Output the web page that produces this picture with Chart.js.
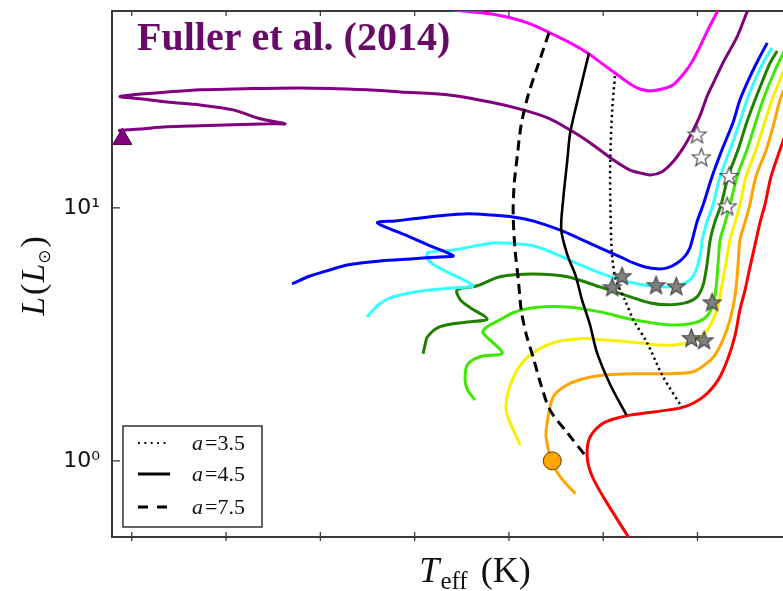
<!DOCTYPE html>
<html>
<head>
<meta charset="utf-8">
<script src="https://cdn.jsdelivr.net/npm/chart.js@4.4.1/dist/chart.umd.min.js"></script>
<style>
html, body { margin: 0; padding: 0; background: #fff; }
#wrap { width: 783px; height: 591px; }
</style>
</head>
<body>
<div id="wrap"><canvas id="hrChart" width="783" height="591"></canvas></div>
<script>
// 축 범위 / 눈금
const tempMin = 4218.6;
const tempMax = 5642;
const lumMin = 0.5;
const lumMax = 60;
const tempTicks = [4400, 4600, 4800, 5000, 5200, 5400, 5600];

// 진화 트랙 (Teff [K], L [Lsun])
const magentaTeff = [4935, 4903, 4840, 4797, 4755, 4713, 4670, 4634, 4596, 4570, 4543, 4522, 4500, 4475, 4452, 4426, 4409, 4394, 4380, 4367, 4356, 4348];
const magentaLum = [61.2, 60.1, 58.5, 56.4, 53.4, 49.2, 44.9, 41.0, 36.4, 33.6, 30.9, 29.5, 29.0, 29.5, 30.6, 34.5, 38.5, 43.7, 49.6, 55.4, 60.6, 65.2];

const purpleTeff = [5629, 5582, 5525, 5455, 5385, 5306, 5275, 5328, 5385, 5455, 5525, 5582, 5625, 5597, 5525, 5455, 5385, 5243, 5101, 5031, 4931, 4840, 4770, 4713, 4670, 4628, 4579, 4543, 4522, 4500, 4475, 4452, 4430, 4409, 4394, 4380, 4363, 4346, 4331, 4316, 4303, 4293, 4284];
const purpleLum = [20.2, 20.5, 20.9, 21.1, 21.3, 21.5, 21.5, 22.5, 24.4, 25.5, 26.2, 27.0, 27.5, 28.0, 28.7, 29.3, 29.5, 29.8, 29.3, 28.7, 28.0, 26.2, 24.4, 22.5, 20.3, 18.1, 15.5, 14.1, 13.75, 13.5, 13.9, 15.2, 17.3, 20.3, 23.3, 27.5, 32.1, 37.4, 42.1, 47.4, 54.4, 60.6, 65.2];

const blueTeff = [5260, 5222, 5179, 5143, 5073, 5003, 4946, 4918, 4967, 5020, 5079, 5041, 5003, 4946, 4888, 4840, 4791, 4749, 4687, 4649, 4607, 4564, 4536, 4511, 4486, 4464, 4443, 4426, 4416, 4411, 4401, 4388, 4369, 4348, 4324, 4310, 4289, 4271, 4252];
const blueLum = [5.01, 5.38, 5.69, 5.95, 6.17, 6.29, 6.40, 6.46, 7.08, 7.82, 8.72, 8.88, 9.05, 9.30, 9.47, 9.38, 9.21, 8.88, 8.11, 7.54, 6.95, 6.40, 6.06, 5.84, 5.74, 5.79, 6.06, 6.46, 6.95, 7.47, 8.80, 10.28, 13.3, 16.96, 21.9, 26.7, 32.9, 38.5, 44.9];

const cyanTeff = [5101, 5077, 5052, 5009, 4967, 4914, 4876, 4918, 4956, 4971, 4973, 4918, 4846, 4819, 4749, 4687, 4649, 4607, 4564, 4536, 4500, 4464, 4437, 4416, 4403, 4394, 4390, 4380, 4367, 4352, 4331, 4310, 4295, 4278, 4261, 4242];
const cyanLum = [3.71, 4.14, 4.41, 4.61, 4.74, 4.83, 4.92, 5.43, 5.90, 6.23, 6.64, 6.82, 7.21, 7.27, 7.08, 6.40, 5.95, 5.53, 5.19, 5.05, 4.92, 4.87, 4.96, 5.19, 5.69, 6.52, 7.47, 8.80, 10.28, 13.3, 16.96, 21.9, 26.7, 32.1, 37.4, 42.9];

const darkGreenTeff = [4982, 4978, 4973, 4946, 4888, 4846, 4882, 4903, 4910, 4867, 4819, 4749, 4676, 4607, 4536, 4500, 4464, 4426, 4401, 4388, 4380, 4373, 4363, 4350, 4335, 4314, 4295, 4278, 4261, 4246, 4231];
const darkGreenLum = [2.65, 2.87, 3.09, 3.39, 3.54, 3.64, 4.03, 4.33, 4.74, 4.92, 5.34, 5.48, 5.34, 4.87, 4.41, 4.21, 4.14, 4.21, 4.45, 4.96, 5.95, 7.47, 8.80, 10.28, 13.3, 16.96, 21.9, 26.7, 32.1, 37.4, 41.7];

const greenTeff = [4872, 4888, 4893, 4888, 4861, 4814, 4855, 4846, 4819, 4791, 4749, 4676, 4607, 4536, 4464, 4416, 4384, 4367, 4360, 4356, 4352, 4341, 4331, 4316, 4295, 4276, 4261, 4244, 4225, 4212];
const greenLum = [1.74, 1.91, 2.09, 2.40, 2.58, 2.67, 3.21, 3.39, 3.61, 3.85, 4.03, 4.06, 3.88, 3.61, 3.45, 3.48, 3.67, 4.14, 4.96, 6.12, 7.47, 8.80, 10.28, 13.3, 16.96, 21.9, 26.7, 32.1, 38.5, 42.9];

const yellowTeff = [4776, 4797, 4806, 4802, 4782, 4755, 4706, 4649, 4600, 4528, 4479, 4447, 4416, 4388, 4369, 4356, 4348, 4339, 4331, 4320, 4310, 4297, 4276, 4257, 4242, 4225, 4208];
const yellowLum = [1.157, 1.41, 1.59, 1.86, 2.29, 2.62, 2.93, 3.04, 3.01, 2.93, 2.87, 2.87, 2.95, 3.15, 3.54, 4.14, 4.96, 6.12, 7.47, 8.80, 10.28, 13.3, 16.96, 21.9, 26.7, 32.1, 38.5];

const orangeTeff = [4659, 4691, 4708, 4721, 4719, 4706, 4676, 4634, 4592, 4528, 4458, 4409, 4384, 4363, 4346, 4331, 4320, 4314, 4310, 4299, 4289, 4276, 4254, 4237, 4225, 4208];
const orangeLum = [0.741, 0.865, 0.982, 1.23, 1.41, 1.79, 2.00, 2.13, 2.19, 2.21, 2.21, 2.25, 2.40, 2.62, 3.01, 3.61, 4.53, 5.95, 7.47, 8.80, 10.28, 13.3, 16.96, 21.9, 26.7, 32.1];

const redTeff = [4536, 4592, 4623, 4634, 4628, 4600, 4549, 4494, 4430, 4388, 4356, 4335, 4320, 4310, 4299, 4289, 4278, 4267, 4257, 4244, 4225, 4204];
const redLum = [0.466, 0.682, 0.865, 1.037, 1.24, 1.41, 1.51, 1.56, 1.63, 1.79, 2.09, 2.55, 3.15, 3.95, 4.74, 5.79, 7.14, 8.80, 10.28, 13.3, 16.96, 21.9];

// a 값별 경계선
const aLabels = ['3.5', '4.5', '7.5'];
const a35Teff = [4575, 4581, 4585, 4585, 4583, 4581, 4573, 4554, 4536, 4507, 4473, 4433];
const a35Lum = [33.2, 24.4, 15.5, 10.75, 7.47, 6.40, 5.19, 4.33, 3.61, 2.93, 2.15, 1.63];
const a45Teff = [4630, 4649, 4670, 4676, 4685, 4689, 4676, 4659, 4645, 4628, 4613, 4585, 4551];
const a45Lum = [41.0, 29.3, 19.8, 15.5, 10.75, 8.18, 6.52, 5.43, 4.33, 3.45, 2.67, 2.00, 1.52];
const a75Teff = [4715, 4738, 4759, 4774, 4782, 4789, 4791, 4787, 4780, 4774, 4763, 4749, 4732, 4713, 4676, 4634];
const a75Lum = [49.2, 36.8, 28.0, 21.3, 16.2, 12.3, 9.38, 6.82, 5.19, 3.95, 3.15, 2.58, 2.00, 1.59, 1.29, 1.028];

// 관측 별
const greyStarTeff = [4560, 4581, 4488, 4445, 4369, 4413, 4386];
const greyStarLum = [5.34, 4.83, 4.92, 4.87, 4.21, 3.04, 2.98];
const whiteStarTeff = [4401, 4392, 4333, 4337];
const whiteStarLum = [19.4, 15.76, 13.3, 10.09];
const triangleTeff = [5620];
const triangleLum = [18.7];
const circleTeff = [4708];
const circleLum = [1.0];

const AXIS_COLOR = '#3a3a3a';
const SERIF = '"Liberation Serif", "DejaVu Serif", serif';

// (Teff, L) 배열 -> 점 객체
function toPoints(teff, lum) {
    return teff.map((t, i) => ({ x: t, y: lum[i] }));
}

function trackDataset(label, teff, lum, color) {
    return {
        label: label,
        data: toPoints(teff, lum),
        showLine: true,
        borderColor: color,
        borderWidth: 3,
        pointRadius: 0,
        tension: 0.3,
        capBezierPoints: false,
        clip: 0,
        order: 3
    };
}

function boundaryDataset(label, teff, lum, width, dash) {
    return {
        label: label,
        data: toPoints(teff, lum),
        showLine: true,
        borderColor: '#000',
        borderWidth: width,
        borderDash: dash,
        borderCapStyle: 'butt',
        pointRadius: 0,
        tension: 0.3,
        capBezierPoints: false,
        clip: 0,
        order: 2
    };
}

// 5각 별 마커
function makeStar(fill, stroke, r) {
    const size = Math.ceil(r * 2 + 4);
    const c = document.createElement('canvas');
    c.width = size;
    c.height = size;
    const g = c.getContext('2d');
    g.translate(size / 2, size / 2);
    g.beginPath();
    for (let i = 0; i < 10; i++) {
        const rad = i % 2 === 0 ? r : r * 0.42;
        const ang = -Math.PI / 2 + i * Math.PI / 5;
        g.lineTo(rad * Math.cos(ang), rad * Math.sin(ang));
    }
    g.closePath();
    g.fillStyle = fill;
    g.fill();
    g.lineWidth = 1.1;
    g.strokeStyle = stroke;
    g.stroke();
    return c;
}

function line(ctx, x1, y1, x2, y2) {
    ctx.beginPath();
    ctx.moveTo(x1, y1);
    ctx.lineTo(x2, y2);
    ctx.stroke();
}

// 여러 폰트 조각을 한 줄로
function drawRich(ctx, parts, cx, baseY) {
    let total = 0;
    parts.forEach(p => {
        ctx.font = p.font;
        p.w = ctx.measureText(p.text).width;
        total += p.w + (p.gap || 0);
    });
    let x = cx - total / 2;
    parts.forEach(p => {
        ctx.font = p.font;
        ctx.fillText(p.text, x, baseY + (p.dy || 0));
        x += p.w + (p.gap || 0);
    });
}

function drawLegend(ctx) {
    const bx = 123, by = 426, bw = 139, bh = 101;
    ctx.fillStyle = '#fff';
    ctx.fillRect(bx, by, bw, bh);
    ctx.strokeStyle = '#111';
    ctx.lineWidth = 1.3;
    ctx.strokeRect(bx, by, bw, bh);

    const rows = [
        { y: 443, width: 1.8, dash: [1.8, 4.6] },
        { y: 474, width: 3, dash: [] },
        { y: 507, width: 3, dash: [10, 9] }
    ];
    rows.forEach((row, i) => {
        ctx.strokeStyle = '#000';
        ctx.lineWidth = row.width;
        ctx.lineCap = 'butt';
        ctx.setLineDash(row.dash);
        line(ctx, 138, row.y, 170, row.y);
        ctx.setLineDash([]);
        ctx.fillStyle = '#111';
        ctx.textAlign = 'left';
        ctx.textBaseline = 'alphabetic';
        ctx.font = 'italic 22px ' + SERIF;
        ctx.fillText('a', 192, row.y + 7);
        ctx.font = '22px ' + SERIF;
        ctx.fillText('=' + aLabels[i], 205, row.y + 7);
    });
}

const decorPlugin = {
    id: 'decor',
    afterDraw(chart) {
        const { ctx, chartArea: area, scales } = chart;
        ctx.save();

        // 안쪽 눈금
        ctx.strokeStyle = AXIS_COLOR;
        ctx.lineWidth = 1.3;
        scales.y.ticks.forEach(t => {
            const py = scales.y.getPixelForValue(t.value);
            const lg = Math.log10(t.value);
            const major = Math.abs(lg - Math.round(lg)) < 1e-6;
            line(ctx, area.left, py, area.left + (major ? 8 : 4), py);
        });
        tempTicks.forEach(v => {
            const px = scales.x.getPixelForValue(v);
            line(ctx, px, area.bottom - 5, px, area.bottom + 4);
            line(ctx, px, area.top, px, area.top + 5);
        });

        // 제목
        ctx.fillStyle = '#680a68';
        ctx.font = 'bold 40px ' + SERIF;
        ctx.textAlign = 'left';
        ctx.textBaseline = 'alphabetic';
        ctx.fillText('Fuller et al. (2014)', 137, 50);

        // x축 제목
        ctx.fillStyle = '#111';
        drawRich(ctx, [
            { text: 'T', font: 'italic 36px ' + SERIF, gap: 1 },
            { text: 'eff', font: '25px ' + SERIF, dy: 7, gap: 4 },
            { text: ' (K)', font: '36px ' + SERIF }
        ], 475, 582);

        // y축 제목
        ctx.save();
        ctx.translate(33, 276);
        ctx.rotate(-Math.PI / 2);
        drawRich(ctx, [
            { text: 'L', font: 'italic 34px ' + SERIF, gap: 2 },
            { text: '(', font: '34px ' + SERIF, gap: 1 },
            { text: 'L', font: 'italic 34px ' + SERIF },
            { text: '⊙', font: '17px "DejaVu Sans"', dy: 6, gap: 2 },
            { text: ')', font: '34px ' + SERIF }
        ], 0, 11);
        ctx.restore();

        drawLegend(ctx);
        ctx.restore();
    }
};

function createChart() {
    const ctx = document.getElementById('hrChart').getContext('2d');
    const greyStar = makeStar('#808080', '#3c3c3c', 9.5);
    const whiteStar = makeStar('#ffffff', '#404040', 9.5);

    const datasets = [
        trackDataset('magenta', magentaTeff, magentaLum, '#ff00ff'),
        trackDataset('purple', purpleTeff, purpleLum, '#800080'),
        trackDataset('blue', blueTeff, blueLum, '#0000ff'),
        trackDataset('cyan', cyanTeff, cyanLum, '#33ffff'),
        trackDataset('darkgreen', darkGreenTeff, darkGreenLum, '#1f8000'),
        trackDataset('green', greenTeff, greenLum, '#3ee800'),
        trackDataset('yellow', yellowTeff, yellowLum, '#f7f000'),
        trackDataset('orange', orangeTeff, orangeLum, '#ffa500'),
        trackDataset('red', redTeff, redLum, '#ff0000'),
        boundaryDataset('a=3.5', a35Teff, a35Lum, 2.5, [2.2, 3.4]),
        boundaryDataset('a=4.5', a45Teff, a45Lum, 2.6, []),
        boundaryDataset('a=7.5', a75Teff, a75Lum, 3, [10, 6]),
        {
            label: 'grey stars',
            data: toPoints(greyStarTeff, greyStarLum),
            pointStyle: greyStar,
            pointRadius: 9,
            order: 1
        },
        {
            label: 'white stars',
            data: toPoints(whiteStarTeff, whiteStarLum),
            pointStyle: whiteStar,
            pointRadius: 9,
            order: 1
        },
        {
            label: 'start',
            data: toPoints(triangleTeff, triangleLum),
            pointStyle: 'triangle',
            pointRadius: 11,
            backgroundColor: '#800080',
            borderColor: '#4a004a',
            borderWidth: 1,
            order: 1
        },
        {
            label: 'now',
            data: toPoints(circleTeff, circleLum),
            pointStyle: 'circle',
            pointRadius: 9,
            backgroundColor: '#ffa500',
            borderColor: '#5a3a00',
            borderWidth: 1,
            order: 1
        }
    ];

    new Chart(ctx, {
        type: 'scatter',
        data: { datasets: datasets },
        options: {
            responsive: false,
            animation: false,
            devicePixelRatio: 1,
            layout: { padding: 0, autoPadding: false },
            plugins: {
                legend: { display: false },
                tooltip: { enabled: false }
            },
            scales: {
                x: {
                    type: 'linear',
                    position: 'bottom',
                    min: tempMin,
                    max: tempMax,
                    reverse: true,
                    grid: { display: false, drawTicks: false },
                    border: { display: true, color: AXIS_COLOR, width: 2 },
                    ticks: { display: false },
                    afterFit: s => { s.height = 54; }
                },
                xTop: {
                    type: 'linear',
                    axis: 'x',
                    position: 'top',
                    min: tempMin,
                    max: tempMax,
                    reverse: true,
                    grid: { display: false, drawTicks: false },
                    border: { display: true, color: AXIS_COLOR, width: 2 },
                    ticks: { display: false },
                    afterFit: s => { s.height = 11; }
                },
                y: {
                    type: 'logarithmic',
                    min: lumMin,
                    max: lumMax,
                    grid: { display: false, drawTicks: false },
                    border: { display: true, color: AXIS_COLOR, width: 2 },
                    ticks: {
                        autoSkip: false,
                        padding: 12,
                        color: '#111',
                        font: { family: 'DejaVu Sans', size: 22 },
                        callback: v => (v === 1 ? '10⁰' : v === 10 ? '10¹' : null)
                    },
                    afterFit: s => {
                        s.width = 112;
                        s.paddingTop = 0;
                        s.paddingBottom = 0;
                    }
                }
            }
        },
        plugins: [decorPlugin]
    });
}

document.addEventListener('DOMContentLoaded', function() {
    createChart();
});
</script>
</body>
</html>
